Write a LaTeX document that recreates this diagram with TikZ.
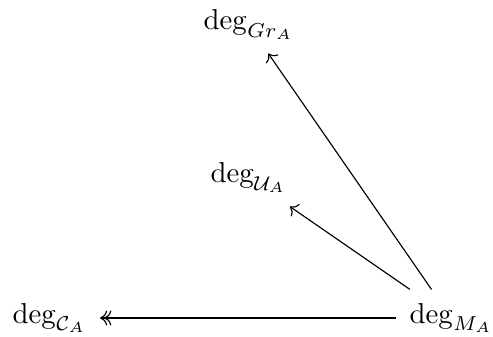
\documentclass[tikz,border=0pt]{standalone}
\usetikzlibrary{cd}
\begin{document}
\begin{tikzpicture}[x=0.347pt,y=-0.347pt,
  lbl/.style={inner sep=4.5pt,anchor=base west},
  arr/.style={draw,line width=0.4pt,-{tikzcd to}},
  darr/.style={draw,line width=0.4pt,-{tikzcd double to}}]
\useasboundingbox (0,0) rectangle (493,337);
\node[lbl] (gr) at (190,30) {$\deg_{Gr_A}$};
\node[lbl] (u) at (197,183) {$\deg_{\mathcal{U}_A}$};
\node[lbl] (c) at (-1,323) {$\deg_{\mathcal{C}_A}$};
\node[lbl] (m) at (396,323) {$\deg_{M_A}$};
\draw[arr] (m) -- (gr);
\draw[arr] (m) -- (u);
\draw[darr] (m) -- (c);
\end{tikzpicture}
\end{document}
